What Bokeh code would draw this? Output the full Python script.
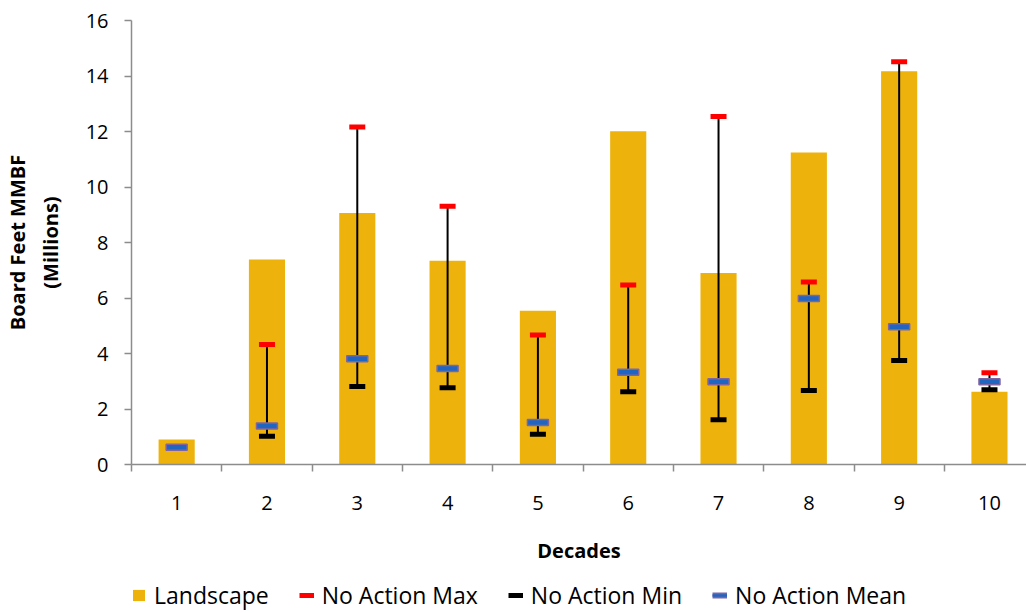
from bokeh.plotting import figure
from bokeh.layouts import column
from bokeh.models import ColumnDataSource, Range1d, FixedTicker, Legend, LegendItem
from bokeh.embed import file_html
from bokeh.resources import INLINE

# Harvest volume per decade (millions of board feet)
decades = [1, 2, 3, 4, 5, 6, 7, 8, 9, 10]
landscape = [0.90, 7.39, 9.06, 7.34, 5.54, 12.01, 6.90, 11.24, 14.17, 2.62]
no_action_max = [0.62, 4.32, 12.16, 9.31, 4.67, 6.47, 12.54, 6.58, 14.51, 3.31]
no_action_min = [0.62, 1.02, 2.81, 2.77, 1.09, 2.62, 1.61, 2.67, 3.75, 2.69]
no_action_mean = [0.62, 1.39, 3.81, 3.46, 1.51, 3.32, 2.98, 5.98, 4.96, 2.98]
y_ticks = [0, 2, 4, 6, 8, 10, 12, 14, 16]

GOLD = "#EEB20C"
AXIS_GRAY = "#8C8C8C"
MAX_RED = "#FF0000"
MEAN_FILL = "#1F66C1"
MEAN_EDGE = "#8064A2"
FONT = "Open Sans"

src = ColumnDataSource(dict(
    decade=decades,
    landscape=landscape,
    na_max=no_action_max,
    na_min=no_action_min,
    na_mean=no_action_mean,
))

p = figure(
    width=1026, height=573, title=None,
    output_backend="svg", toolbar_location=None,
    x_range=Range1d(0.5, 10.41), y_range=Range1d(0, 16),
    min_border_left=131, min_border_right=0,
    min_border_top=20, min_border_bottom=109,
)
p.outline_line_color = None
p.xgrid.visible = False
p.ygrid.visible = False

# Landscape bars
p.vbar(x="decade", top="landscape", width=0.4, source=src,
       fill_color=GOLD, line_color=None)

# No Action range: whisker from min to max, caps and mean marker
p.segment(x0="decade", y0="na_min", x1="decade", y1="na_max", source=src,
          line_color="black", line_width=2)
p.rect(x="decade", y="na_min", width=16, height=5, width_units="screen",
       height_units="screen", source=src, fill_color="black", line_color=None)
p.rect(x="decade", y="na_max", width=16, height=5, width_units="screen",
       height_units="screen", source=src, fill_color=MAX_RED, line_color=None)
p.rect(x="decade", y="na_mean", width=21, height=6, width_units="screen",
       height_units="screen", source=src, fill_color=MEAN_FILL,
       line_color=MEAN_EDGE, line_width=1.5)

# X axis: labels at decade centres, ticks on the boundaries between bars
xa = p.xaxis[0]
xa.ticker = FixedTicker(ticks=decades,
                        minor_ticks=[d - 0.5 for d in decades] + [decades[-1] + 0.5])
xa.major_tick_line_color = None
xa.major_tick_out = 0
xa.major_tick_in = 0
xa.minor_tick_out = 7
xa.minor_tick_in = 0
xa.minor_tick_line_color = AXIS_GRAY
xa.minor_tick_line_width = 1.5
xa.axis_line_color = AXIS_GRAY
xa.axis_line_width = 1.5
xa.major_label_text_font = FONT
xa.major_label_text_font_size = "20px"
xa.major_label_text_color = "black"
xa.major_label_standoff = 24
xa.axis_label = "Decades"
xa.axis_label_text_font = FONT
xa.axis_label_text_font_size = "20px"
xa.axis_label_text_font_style = "bold"
xa.axis_label_text_color = "black"
xa.axis_label_standoff = 24

ya = p.yaxis[0]
ya.ticker = FixedTicker(ticks=y_ticks)
ya.minor_tick_line_color = None
ya.major_tick_out = 7
ya.major_tick_in = 0
ya.major_tick_line_color = AXIS_GRAY
ya.major_tick_line_width = 1.5
ya.axis_line_color = AXIS_GRAY
ya.axis_line_width = 1.5
ya.major_label_text_font = FONT
ya.major_label_text_font_size = "20px"
ya.major_label_text_color = "black"
ya.major_label_standoff = 16
ya.axis_label = "Board Feet MMBF\n(Millions)"
ya.axis_label_text_font = FONT
ya.axis_label_text_font_size = "20px"
ya.axis_label_text_font_style = "bold"
ya.axis_label_text_color = "black"
ya.axis_label_standoff = 19

# Legend strip underneath the chart
leg = figure(
    width=1026, height=40, title=None,
    output_backend="svg", toolbar_location=None,
    x_axis_location=None, y_axis_location=None,
    x_range=Range1d(0, 1), y_range=Range1d(0, 1),
    min_border=0,
)
leg.outline_line_color = None
leg.xgrid.visible = False
leg.ygrid.visible = False

# Zero-size bar and single-point lines: they draw nothing, only legend swatches
land_key = leg.vbar(x=[0], top=[0], width=0, fill_color=GOLD, line_color=None)
max_key = leg.line(x=[0], y=[0], line_color=MAX_RED, line_width=5)
min_key = leg.line(x=[0], y=[0], line_color="black", line_width=5)
mean_edge_key = leg.line(x=[0], y=[0], line_color=MEAN_EDGE, line_width=6)
mean_fill_key = leg.line(x=[0], y=[0], line_color=MEAN_FILL, line_width=2.5)

legend = Legend(
    items=[
        LegendItem(label="Landscape", renderers=[land_key]),
        LegendItem(label="No Action Max", renderers=[max_key]),
        LegendItem(label="No Action Min", renderers=[min_key]),
        LegendItem(label="No Action Mean", renderers=[mean_edge_key, mean_fill_key]),
    ],
    orientation="horizontal",
    location=(0, 2),
    glyph_width=15, glyph_height=14,
    label_standoff=8, spacing=30,
    padding=0, margin=0,
    label_text_font=FONT, label_text_font_size="23px", label_text_color="black",
    border_line_color=None, background_fill_alpha=0,
)
leg.add_layout(legend, "center")

layout = column(p, leg, spacing=0)
open("out.html", "w").write(file_html(layout, INLINE))
